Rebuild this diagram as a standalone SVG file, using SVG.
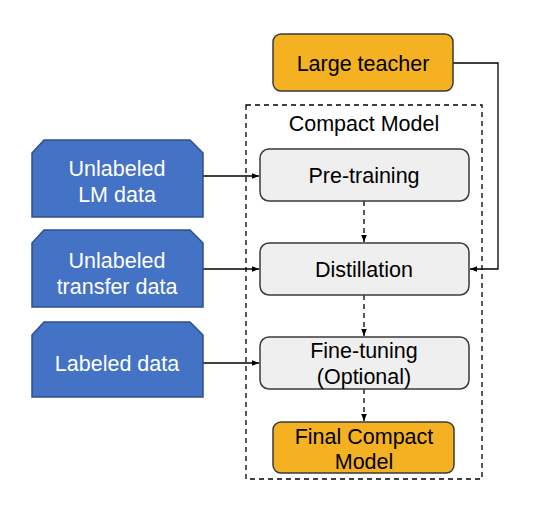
<svg xmlns="http://www.w3.org/2000/svg" width="544" height="516" viewBox="0 0 544 516">
<defs>
<style>
.blue{fill:#4472C4;stroke:#2F4F8A;stroke-width:1.5}
.orange{fill:#F4B223;stroke:#3a3a3a;stroke-width:1.5}
.gray{fill:#EFEFEF;stroke:#3a3a3a;stroke-width:1.5}
.wt{font-family:"Liberation Sans",Arial,sans-serif;font-size:21.5px;fill:#fff;text-anchor:middle}
.bt{font-family:"Liberation Sans",Arial,sans-serif;font-size:21.5px;fill:#000;text-anchor:middle}
.line{fill:none;stroke:#000;stroke-width:1.3}
.dash{fill:none;stroke:#000;stroke-width:1.3;stroke-dasharray:5,4}
</style>
<marker id="arr" viewBox="0 0 10 10" refX="10" refY="5" markerWidth="7" markerHeight="7" orient="auto" markerUnits="userSpaceOnUse">
<path d="M0,1 L10,5 L0,9 z" fill="#000"/>
</marker>
</defs>
<rect x="246" y="105" width="236" height="374" fill="none" stroke="#000" stroke-width="1.3" stroke-dasharray="5,4"/>
<text class="bt" x="364" y="131">Compact Model</text>
<g id="connectors">
<path class="line" d="M203,176 H259" marker-end="url(#arr)"/>
<path class="line" d="M203,269 H259" marker-end="url(#arr)"/>
<path class="line" d="M203,363 H259" marker-end="url(#arr)"/>
<path class="line" d="M453,63 H498 V269 H470" marker-end="url(#arr)"/>
<path class="dash" d="M364,201 V242" marker-end="url(#arr)"/>
<path class="dash" d="M364,295 V336" marker-end="url(#arr)"/>
<path class="dash" d="M364,389 V421" marker-end="url(#arr)"/>
</g>
<g id="teacher">
<rect class="orange" x="273" y="34" width="180" height="57" rx="8"/>
<text class="bt" x="363" y="71">Large teacher</text>
</g>
<g id="lmdata">
<path class="blue" d="M44,140 H190 L203,153 V217 H32 V153 Z"/>
<text class="wt" x="117" y="176">Unlabeled</text>
<text class="wt" x="117" y="202">LM data</text>
</g>
<g id="transfer">
<path class="blue" d="M44,230 H190 L203,243 V307 H32 V243 Z"/>
<text class="wt" x="117" y="268">Unlabeled</text>
<text class="wt" x="117" y="294">transfer data</text>
</g>
<g id="labeled">
<path class="blue" d="M44,322 H190 L203,335 V397 H32 V335 Z"/>
<text class="wt" x="117" y="371">Labeled data</text>
</g>
<g id="pretraining">
<rect class="gray" x="260" y="149" width="209" height="52" rx="9"/>
<text class="bt" x="364" y="183">Pre-training</text>
</g>
<g id="distillation">
<rect class="gray" x="260" y="243" width="209" height="52" rx="9"/>
<text class="bt" x="364" y="277">Distillation</text>
</g>
<g id="finetuning">
<rect class="gray" x="260" y="337" width="209" height="52" rx="9"/>
<text class="bt" x="364" y="358">Fine-tuning</text>
<text class="bt" x="364" y="384">(Optional)</text>
</g>
<g id="final">
<rect class="orange" x="273" y="422" width="181" height="51" rx="8"/>
<text class="bt" x="364" y="444">Final Compact</text>
<text class="bt" x="364" y="469">Model</text>
</g>
</svg>
